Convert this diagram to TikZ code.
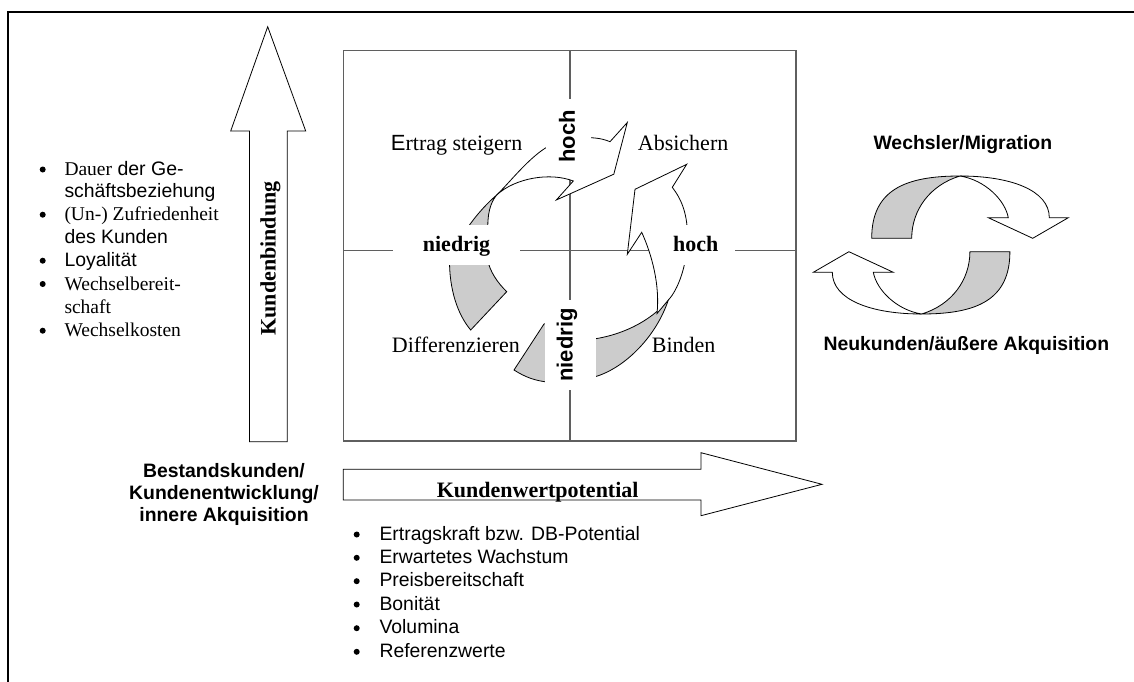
\documentclass[tikz,border=0pt]{standalone}
\usepackage{fontspec}
\setmainfont{Liberation Serif}
\newfontfamily\arial{Liberation Sans}
\definecolor{backgray}{RGB}{204,204,204}
\definecolor{axisgray}{RGB}{95,95,95}

% one half of the exchange cycle on the right (the other half is this, turned by 180 degrees)
\newcommand\swapshape{%
  \path[ribbonback] (871.7,238.3) .. controls (871.7,190) and (905,176) .. (960,176)
        .. controls (930,185) and (911.7,210) .. (911.7,238.3) -- cycle;
  \path[ribbonfront] (960,176) .. controls (1010,176) and (1049.3,190) .. (1049.3,217.7)
        -- (1068.3,217.7) -- (1032.7,238.3) -- (988.3,217.7) -- (1008.3,217.7)
        .. controls (1005,200) and (985,180) .. (960,176) -- cycle;
}

\begin{document}
\begin{tikzpicture}[x=1pt,y=-1pt,
  every node/.style={inner sep=0pt},
  txt/.style={font=\fontsize{22}{26}\selectfont},
  txtb/.style={font=\fontsize{22}{26}\selectfont\bfseries},
  axisb/.style={font=\arial\fontsize{22}{26}\selectfont\bfseries},
  headb/.style={font=\arial\fontsize{19.4}{23}\selectfont\bfseries},
  item/.style={font=\fontsize{19.5}{23}\selectfont, anchor=base west},
  itemsans/.style={font=\arial\fontsize{19.4}{23}\selectfont, anchor=base west},
  dot/.style={circle, fill=black, minimum size=6pt},
  bigarrow/.style={draw=black, line width=0.8pt, fill=white, line join=miter},
  ribbonback/.style={fill=backgray, draw=black, line width=0.8pt, line join=miter},
  ribbonfront/.style={fill=white, draw=black, line width=0.8pt, line join=miter},
  axis/.style={draw=axisgray, line width=1.3pt},
  gap/.style={fill=white}]

\useasboundingbox (0,0) rectangle (1134,682);

% outer frame
\draw[line width=2pt] (8,690) -- (8,12) -- (1140,12);

% portfolio square with its axes
\draw[axis] (343.3,50.3) rectangle (796,441);
\draw[axis] (570,50.3) -- (570,441);
\draw[axis] (343.3,250.8) -- (796,250.8);

% arrow from "Differenzieren" up to "Absichern"
\path[ribbonback] (449.5,258) .. controls (449,290) and (458,315) .. (470.7,330)
      -- (506.7,291.7) .. controls (497,282) and (490,272) .. (487,258) -- cycle;
\path[ribbonback] (465,232) .. controls (472,220) and (485,205) .. (496.7,195)
      .. controls (490,203) and (487,215) .. (488,232) -- cycle;
\path[ribbonfront] (496.7,195) .. controls (510,182) and (527,160) .. (545,148.3)
      .. controls (560,140) and (575,136) .. (590,137.7)
      .. controls (600,138) and (606,140) .. (610,141.7)
      -- (627.3,122.5) -- (613.8,174.2) -- (556.3,200) -- (573.3,181)
      .. controls (550,172) and (515,178) .. (496.7,195) -- cycle;

% arrow from the bottom up to "Absichern"
\path[ribbonback] (514,370) -- (544,324) -- (550,322) -- (550,382.3)
      .. controls (535,381) and (525,377) .. (514,370) -- cycle;
\path[ribbonback] (590,339.5) .. controls (620,336) and (650,322) .. (668.3,300)
      .. controls (655,340) and (620,372) .. (590,378) -- cycle;
\path[ribbonfront] (657,313.6) .. controls (660,285) and (652,255) .. (641.7,232.3)
      -- (627.3,254.3) -- (635,189.3) -- (686.7,164.3) -- (672.3,187.3)
      .. controls (682,200) and (688,215) .. (687.5,240)
      .. controls (687,265) and (678,290) .. (668.3,300) -- cycle;

% axis labels on white ground
\fill[gap] (546,99) rectangle (591,174);
\fill[gap] (545,300) rectangle (596,390);
\fill[gap] (393,225) rectangle (520,265);
\fill[gap] (656.6,225) rectangle (735,265);
\node[axisb, rotate=90] (yhigh) at (567,136.5) {hoch};
\node[axisb, rotate=90] (ylow) at (567,345) {niedrig};
\node[txtb, anchor=base] (xlow) at (456.5,251) {niedrig};
\node[txtb, anchor=base] (xhigh) at (695.8,251) {hoch};

% quadrant labels
\node[txt, anchor=base west] (q1) at (390.7,150.5) {{\arial E}rtrag steigern};
\node[txt, anchor=base west] (q2) at (637.7,150.5) {Absichern};
\node[txt, anchor=base west] (q3) at (391.7,352) {Differenzieren};
\node[txt, anchor=base west] (q4) at (651.7,352) {Binden};

% vertical axis arrow
\path[bigarrow] (249.5,441.7) -- (249.5,131) -- (230.7,131) -- (267.7,26.7)
      -- (305.7,131) -- (287.3,131) -- (287.3,441.7) -- cycle;
\node[txtb, rotate=90, anchor=base] (kb) at (275.5,258.5) {Kundenbindung};

% horizontal axis arrow
\path[bigarrow] (343.3,469.3) -- (701,469.3) -- (701,452.7) -- (822,484.3)
      -- (701,515.7) -- (701,500) -- (343.3,500) -- cycle;
\node[txtb, anchor=base] (kw) at (537.7,497) {Kundenwertpotential};

% criteria of customer loyalty
\node[dot] (b1) at (42.7,169.5) {};
\node[item] (l1) at (64.3,175.5) {Dauer{\arial\ der Ge-}};
\node[itemsans] (l2) at (64.3,197.5) {schäftsbeziehung};
\node[dot] (b2) at (42.7,214.7) {};
\node[item] (l3) at (64.3,220.7) {(Un-) Zufriedenheit};
\node[itemsans] (l4) at (64.3,243.5) {des Kunden};
\node[dot] (b3) at (42.7,260.7) {};
\node[itemsans] (l5) at (64.3,266.7) {Loyalität};
\node[dot] (b4) at (42.7,284) {};
\node[item] (l6) at (64.3,290) {Wechselbereit-};
\node[item] (l7) at (64.3,313.3) {schaft};
\node[dot] (b5) at (42.7,330.7) {};
\node[item] (l8) at (64.3,336.7) {Wechselkosten};

% existing customers
\node[headb, anchor=base] (bk1) at (224,477) {Bestandskunden/};
\node[headb, anchor=base] (bk2) at (224,499) {Kundenentwicklung/};
\node[headb, anchor=base] (bk3) at (224,521) {innere Akquisition};

% criteria of customer value
\node[dot] (c1) at (356.7,534.5) {};
\node[itemsans] (v1) at (379.3,540) {Ertragskraft bzw. DB-Potential};
\node[dot] (c2) at (356.7,557.8) {};
\node[itemsans] (v2) at (379.3,563.3) {Erwartetes Wachstum};
\node[dot] (c3) at (356.7,581.2) {};
\node[itemsans] (v3) at (379.3,586.7) {Preisbereitschaft};
\node[dot] (c4) at (356.7,604.5) {};
\node[itemsans] (v4) at (379.3,610) {Bonität};
\node[dot] (c5) at (356.7,628.2) {};
\node[itemsans] (v5) at (379.3,633.7) {Volumina};
\node[dot] (c6) at (356.7,651.8) {};
\node[itemsans] (v6) at (379.3,657.3) {Referenzwerte};

% exchange cycle on the right
\swapshape
\begin{scope}[rotate around={180:(940.8,245)}]
  \swapshape
\end{scope}
\node[headb, anchor=base west] (wm) at (873.3,149.3) {Wechsler/Migration};
\node[headb, anchor=base west] (nk) at (823.3,350) {Neukunden/äußere Akquisition};

\end{tikzpicture}
\end{document}
